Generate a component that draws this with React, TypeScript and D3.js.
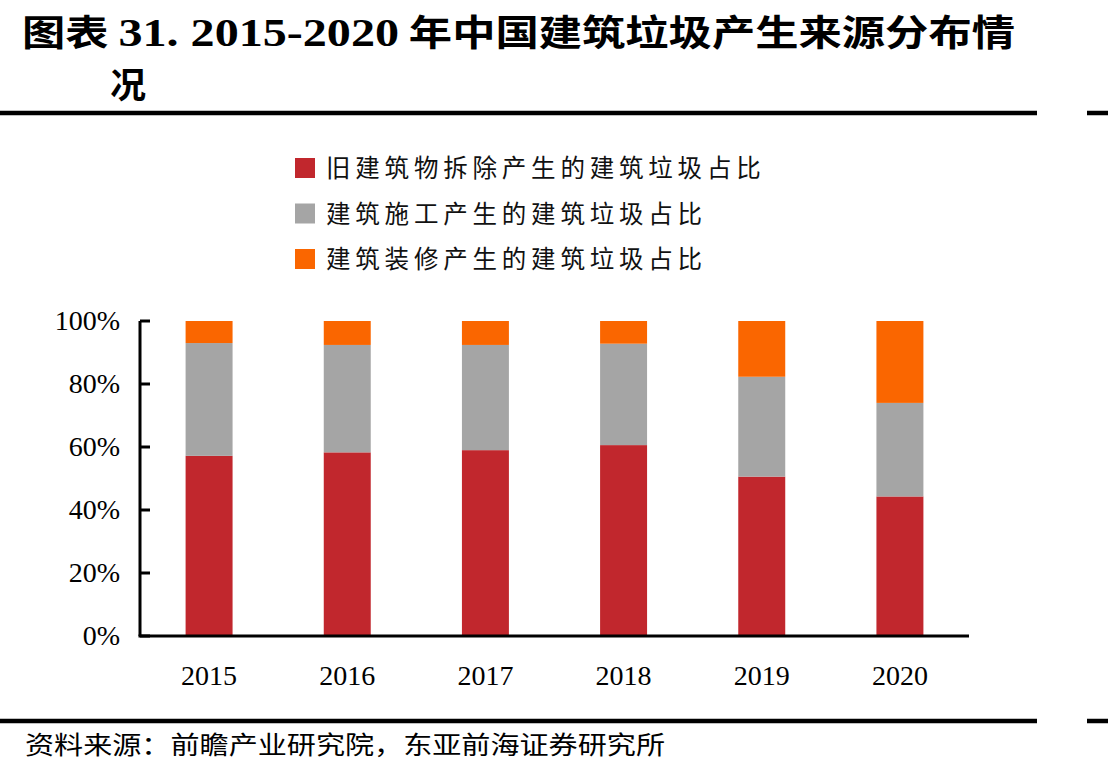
import React, { useRef, useEffect } from 'react';
import * as d3 from 'd3';

const years = ['2015', '2016', '2017', '2018', '2019', '2020'];
// 各年建筑垃圾来源占比（%）
const chaichu = [57.2, 58.3, 59.0, 60.6, 50.6, 44.3];
const shigong = [35.8, 34.1, 33.4, 32.2, 31.7, 29.7];
const zhuangxiu = [7.0, 7.6, 7.6, 7.2, 17.7, 26.0];
const seriesNames = ['旧建筑物拆除产生的建筑垃圾占比', '建筑施工产生的建筑垃圾占比', '建筑装修产生的建筑垃圾占比'];
const seriesColors = ['#C1272D', '#A5A5A5', '#FA6600'];
const yTicks = [0, 20, 40, 60, 80, 100];

const W = 1108;
const H = 775;
const CJK = '"Noto Sans CJK SC", sans-serif';
const SERIF = '"Liberation Serif", "Times New Roman", serif';

const App: React.FC = () => {
  const svgRef = useRef<SVGSVGElement | null>(null);

  useEffect(() => {
    if (!svgRef.current) return;
    const svg = d3.select<SVGSVGElement, unknown>(svgRef.current);
    svg.selectAll('*').remove();

    // 标题
    const titulo = svg.append('text')
      .attr('x', 22).attr('y', 46)
      .attr('textLength', 993).attr('lengthAdjust', 'spacingAndGlyphs')
      .style('font-family', CJK).style('font-weight', 'bold').style('font-size', '36px');
    titulo.append('tspan').text('图表 ');
    titulo.append('tspan').style('font-family', SERIF).style('font-size', '40px').text('31. 2015-2020');
    titulo.append('tspan').text(' 年中国建筑垃圾产生来源分布情');
    svg.append('text')
      .attr('x', 110).attr('y', 98)
      .style('font-family', CJK).style('font-weight', 'bold').style('font-size', '36px')
      .text('况');

    // 上下分隔线
    [113, 721].forEach((y) => {
      svg.append('line').attr('x1', 0).attr('x2', 1037).attr('y1', y).attr('y2', y)
        .attr('stroke', '#000').attr('stroke-width', 4.5);
      svg.append('line').attr('x1', 1087).attr('x2', W).attr('y1', y).attr('y2', y)
        .attr('stroke', '#000').attr('stroke-width', 4.5);
    });

    svg.append('text')
      .attr('x', 25).attr('y', 754)
      .attr('textLength', 640).attr('lengthAdjust', 'spacingAndGlyphs')
      .style('font-family', CJK).style('font-size', '25px')
      .text('资料来源：前瞻产业研究院，东亚前海证券研究所');

    // 图例
    const leyenda = svg.append('g').attr('transform', 'translate(295,158)');
    seriesNames.forEach((name, i) => {
      leyenda.append('rect').attr('x', 0).attr('y', i * 45.5).attr('width', 20).attr('height', 20)
        .attr('fill', seriesColors[i]);
      leyenda.append('text').attr('x', 31).attr('y', i * 45.5 + 19)
        .style('font-family', CJK).style('font-size', '24.5px').style('letter-spacing', '4.8px')
        .style('fill', '#111')
        .text(name);
    });

    // 堆积柱状图
    const left = 140, right = 969, top = 321, bottom = 636;
    const x = d3.scaleBand<string>().domain(years).range([left, right]).paddingInner(0.66).paddingOuter(0.33);
    const y = d3.scaleLinear().domain([0, 100]).range([bottom, top]);

    const rows = years.map((yr, i) => ({ year: yr, a: chaichu[i], b: shigong[i], c: zhuangxiu[i] }));
    const stack = d3.stack<{ year: string; a: number; b: number; c: number }>().keys(['a', 'b', 'c']);
    const layers = stack(rows);

    layers.forEach((layer, k) => {
      svg.append('g').selectAll('rect')
        .data(layer)
        .enter().append('rect')
        .attr('x', (d) => x(d.data.year) as number)
        .attr('width', x.bandwidth())
        .attr('y', (d) => y(Math.min(d[1], 100)))
        .attr('height', (d) => y(d[0]) - y(Math.min(d[1], 100)))
        .attr('fill', seriesColors[k]);
    });

    // 坐标轴
    const yAxis = svg.append('g');
    yAxis.append('line').attr('x1', left).attr('x2', left).attr('y1', top).attr('y2', bottom)
      .attr('stroke', '#000').attr('stroke-width', 3);
    yTicks.forEach((t) => {
      yAxis.append('line').attr('x1', left).attr('x2', left + 10).attr('y1', y(t)).attr('y2', y(t))
        .attr('stroke', '#000').attr('stroke-width', 3);
      yAxis.append('text').attr('x', 120).attr('y', y(t)).attr('dy', '0.33em')
        .attr('text-anchor', 'end')
        .style('font-family', SERIF).style('font-size', '28px')
        .text(`${t}%`);
    });

    svg.append('line').attr('x1', left - 1.5).attr('x2', right).attr('y1', bottom).attr('y2', bottom)
      .attr('stroke', '#000').attr('stroke-width', 3);
    years.forEach((yr) => {
      svg.append('text')
        .attr('x', (x(yr) as number) + x.bandwidth() / 2).attr('y', 685)
        .attr('text-anchor', 'middle')
        .style('font-family', SERIF).style('font-size', '28px')
        .text(yr);
    });
  }, []);

  return (
    <svg ref={svgRef} width={W} height={H} style={{ position: 'absolute', left: 0, top: 0, background: '#fff' }}></svg>
  );
};

export default App;
